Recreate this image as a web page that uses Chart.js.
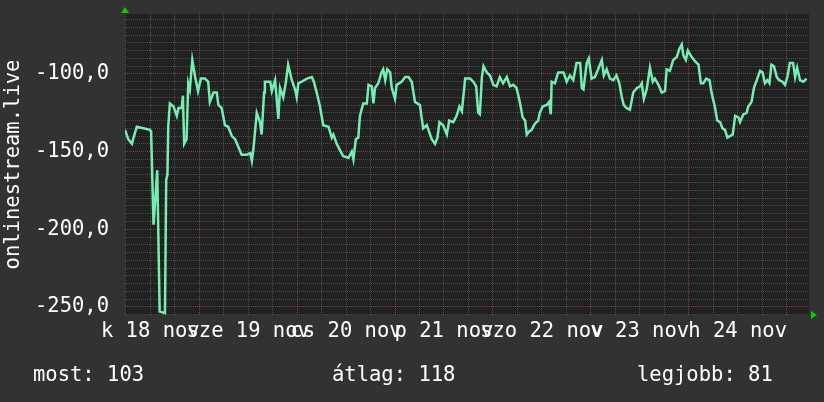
<!DOCTYPE html>
<html lang="hu">
<head>
<meta charset="utf-8">
<title>onlinestream.live</title>
<script src="https://cdn.jsdelivr.net/npm/chart.js@4.4.0/dist/chart.umd.min.js"></script>
<style>
    html, body { margin: 0; padding: 0; background: #323232; }
    canvas { display: block; }
</style>
</head>
<body>
<canvas id="chartRank" width="824" height="402"></canvas>
<script>
/* ===== onlinestream.live helyezés - heti grafikon ===== */

// Idő (óra, nov 18 00:00-tól) és helyezés (negatív, mint az rrd-ben)
const hours = [
    5.8, 6.6, 7.5, 7.8, 8.7, 10.3, 11.9, 12.2, 12.8, 13.7, 14.3, 15.6, 15.9, 16.2, 16.4, 16.8,
    17.7, 18.5, 18.9, 19.7, 20.0, 20.3, 20.9, 21.3, 21.7, 22.3, 23.0, 23.7, 24.4, 25.4, 26.2, 26.6,
    27.5, 28.3, 28.7, 29.5, 30.3, 31.1, 32.0, 32.8, 33.6, 34.4, 35.6, 36.5, 36.9, 37.3, 38.1, 38.9,
    39.3, 39.9, 40.1, 41.4, 41.8, 42.6, 43.4, 43.8, 44.6, 45.2, 45.8, 46.7, 47.5, 47.9, 48.3, 49.1,
    50.4, 51.6, 52.1, 52.8, 53.6, 54.4, 55.7, 56.5, 56.9, 57.7, 58.5, 59.3, 60.6, 61.4, 61.8, 62.4,
    63.0, 63.4, 64.2, 65.1, 65.5, 66.3, 66.7, 67.1, 67.9, 68.7, 69.1, 69.6, 70.1, 70.8, 71.2, 72.0,
    72.4, 73.6, 74.5, 75.3, 76.1, 76.9, 78.1, 78.9, 79.8, 80.2, 81.0, 81.8, 82.4, 82.9, 83.8, 84.7,
    85.3, 86.3, 87.1, 87.8, 88.4, 89.2, 90.4, 91.2, 91.9, 92.4, 92.8, 93.3, 93.7, 94.5, 95.3, 96.1,
    96.9, 97.7, 98.5, 99.4, 100.2, 101.0, 101.8, 102.6, 103.3, 103.9, 104.3, 104.9, 105.5, 106.3, 107.1, 107.5,
    108.2, 109.2, 109.8, 110.2, 110.4, 111.2, 112.0, 113.3, 114.1, 114.9, 115.7, 116.5, 117.4, 117.8, 118.2, 119.0,
    119.5, 120.2, 121.0, 121.8, 122.7, 123.2, 123.9, 124.7, 125.5, 126.3, 127.0, 127.6, 128.1, 128.8, 129.6, 130.4,
    131.3, 132.1, 132.5, 133.0, 133.7, 134.5, 135.2, 135.7, 136.6, 137.4, 138.2, 138.6, 139.4, 140.2, 141.1, 141.7,
    142.3, 142.7, 143.3, 143.8, 144.7, 145.6, 146.4, 147.0, 147.6, 148.3, 149.1, 149.6, 150.4, 151.0, 151.7, 152.3,
    152.9, 153.5, 154.1, 154.8, 155.4, 156.2, 156.6, 157.4, 158.2, 158.6, 159.4, 160.0, 160.7, 161.5, 162.1, 162.7,
    163.3, 163.8, 164.3, 164.9, 165.6, 166.2, 167.0, 167.6, 168.2, 168.8, 169.6, 170.1, 170.6, 171.3, 172.1, 172.9
];
const rank = [
    -136, -142, -145, -142, -134, -135, -136, -137, -197, -162, -253, -254, -168, -165, -134, -119,
    -121, -127, -122, -122, -114, -145, -142, -106, -110, -91, -102, -111, -103, -103, -105, -118,
    -112, -112, -120, -122, -133, -134, -140, -142, -147, -152, -152, -151, -156, -148, -125, -131,
    -139, -112, -105, -105, -111, -104, -129, -109, -115, -106, -94, -104, -110, -115, -106, -105,
    -103, -102, -105, -112, -121, -133, -134, -141, -139, -145, -149, -153, -154, -150, -155, -142,
    -141, -127, -119, -119, -107, -108, -119, -109, -106, -99, -97, -104, -97, -99, -109, -116,
    -107, -105, -102, -102, -105, -118, -120, -135, -133, -136, -142, -145, -141, -131, -133, -139,
    -130, -131, -127, -121, -124, -103, -103, -105, -108, -125, -126, -102, -95, -99, -101, -107,
    -108, -102, -106, -102, -108, -107, -109, -118, -128, -130, -139, -137, -136, -132, -130, -125,
    -121, -120, -118, -126, -105, -106, -99, -99, -105, -101, -104, -93, -93, -109, -110, -93,
    -90, -103, -102, -97, -91, -101, -97, -103, -104, -101, -106, -115, -120, -122, -123, -112,
    -109, -108, -106, -116, -110, -96, -105, -103, -107, -112, -111, -97, -98, -91, -89, -84,
    -81, -88, -91, -85, -89, -92, -94, -106, -106, -103, -104, -112, -121, -130, -131, -135,
    -136, -141, -140, -139, -127, -128, -131, -126, -125, -121, -118, -109, -104, -98, -99, -106,
    -104, -106, -94, -95, -102, -104, -105, -107, -102, -93, -93, -102, -96, -104, -105, -103
];

// Tengelyfeliratok és jelmagyarázat
const dayLabels = ['k 18 nov', 'sze 19 nov', 'cs 20 nov', 'p 21 nov', 'szo 22 nov', 'v 23 nov', 'h 24 nov'];
const legendLabels = ['most', 'átlag', 'legjobb'];
const legendValues = [103, 118, 81];

// Színek
const colors = {
    page: '#323232',
    plot: '#212121',
    line: '#76eeb2',
    grid: 'rgba(128, 128, 128, 0.45)',
    major: 'rgba(230, 115, 115, 0.45)',
    text: '#ffffff',
    arrow: '#00d000'
};
const monoFont = "'DejaVu Sans Mono', monospace";
const fontSize = 20.5;

const xMin = 5.8, xMax = 173.5;
const yMin = -255.2, yMax = -61.4;

function stepTicks(min, max, step) {
    const out = [];
    for (let v = Math.ceil(min / step) * step; v <= max; v += step) out.push({ value: v });
    return out;
}

// Háttér, nyilak, jelmagyarázat
const rrdDecor = {
    id: 'rrdDecor',
    beforeDraw(chart) {
        const { ctx, chartArea: a } = chart;
        ctx.save();
        ctx.fillStyle = colors.page;
        ctx.fillRect(0, 0, chart.width, chart.height);
        ctx.fillStyle = colors.plot;
        ctx.fillRect(a.left, a.top, a.right - a.left, a.bottom - a.top);
        ctx.restore();
    },
    afterDraw(chart) {
        const { ctx, chartArea: a } = chart;
        ctx.save();
        ctx.fillStyle = colors.arrow;
        ctx.beginPath();
        ctx.moveTo(a.left - 4, a.top - 1);
        ctx.lineTo(a.left + 4, a.top - 1);
        ctx.lineTo(a.left, a.top - 7);
        ctx.closePath();
        ctx.fill();
        ctx.beginPath();
        ctx.moveTo(a.right + 2, a.bottom - 4);
        ctx.lineTo(a.right + 2, a.bottom + 4);
        ctx.lineTo(a.right + 8, a.bottom);
        ctx.closePath();
        ctx.fill();

        ctx.font = fontSize + 'px ' + monoFont;
        ctx.fillStyle = colors.text;
        ctx.textBaseline = 'alphabetic';
        const legendX = [33, 332, 637];
        legendLabels.forEach((label, i) => {
            ctx.fillText(label + ': ' + legendValues[i], legendX[i], 381);
        });
        ctx.restore();
    }
};

new Chart(document.getElementById('chartRank'), {
    type: 'line',
    data: {
        datasets: [{
            label: 'onlinestream.live',
            data: hours.map((h, i) => ({ x: h, y: rank[i] })),
            borderColor: colors.line,
            borderWidth: 2.5,
            pointRadius: 0,
            tension: 0,
            fill: false
        }]
    },
    options: {
        responsive: false,
        animation: false,
        layout: { padding: { top: 14, right: 15, left: 0, bottom: 0 } },
        plugins: {
            legend: { display: false },
            tooltip: { enabled: false }
        },
        scales: {
            x: {
                type: 'linear',
                min: xMin,
                max: xMax,
                afterBuildTicks: s => { s.ticks = stepTicks(xMin, xMax, 6); },
                afterFit: s => {
                    s.height = 87;
                    s.paddingLeft = 0;
                    s.paddingRight = 0;
                },
                grid: {
                    color: c => (c.tick && c.tick.value % 24 === 0) ? colors.major : colors.grid,
                    lineWidth: 1,
                    drawTicks: false
                },
                border: { display: false, dash: [1, 1] },
                ticks: {
                    autoSkip: false,
                    maxRotation: 0,
                    padding: 4,
                    color: colors.text,
                    font: { family: monoFont, size: fontSize },
                    callback: v => (v % 24 === 12) ? dayLabels[(v - 12) / 24] : ''
                }
            },
            y: {
                type: 'linear',
                min: yMin,
                max: yMax,
                afterBuildTicks: s => { s.ticks = stepTicks(yMin, yMax, 5); },
                afterFit: s => {
                    s.width = 125;
                    s.paddingTop = 0;
                    s.paddingBottom = 0;
                },
                grid: {
                    color: c => (c.tick && c.tick.value % 50 === 0) ? colors.major : colors.grid,
                    lineWidth: 1,
                    drawTicks: false
                },
                border: { display: false, dash: [1, 1] },
                ticks: {
                    autoSkip: false,
                    padding: 16,
                    color: colors.text,
                    font: { family: monoFont, size: fontSize },
                    callback: v => (v % 50 === 0) ? v.toFixed(1).replace('.', ',') : ''
                },
                title: {
                    display: true,
                    text: 'onlinestream.live',
                    color: colors.text,
                    padding: 1,
                    font: { family: monoFont, size: fontSize }
                }
            }
        }
    },
    plugins: [rrdDecor]
});
</script>
</body>
</html>
